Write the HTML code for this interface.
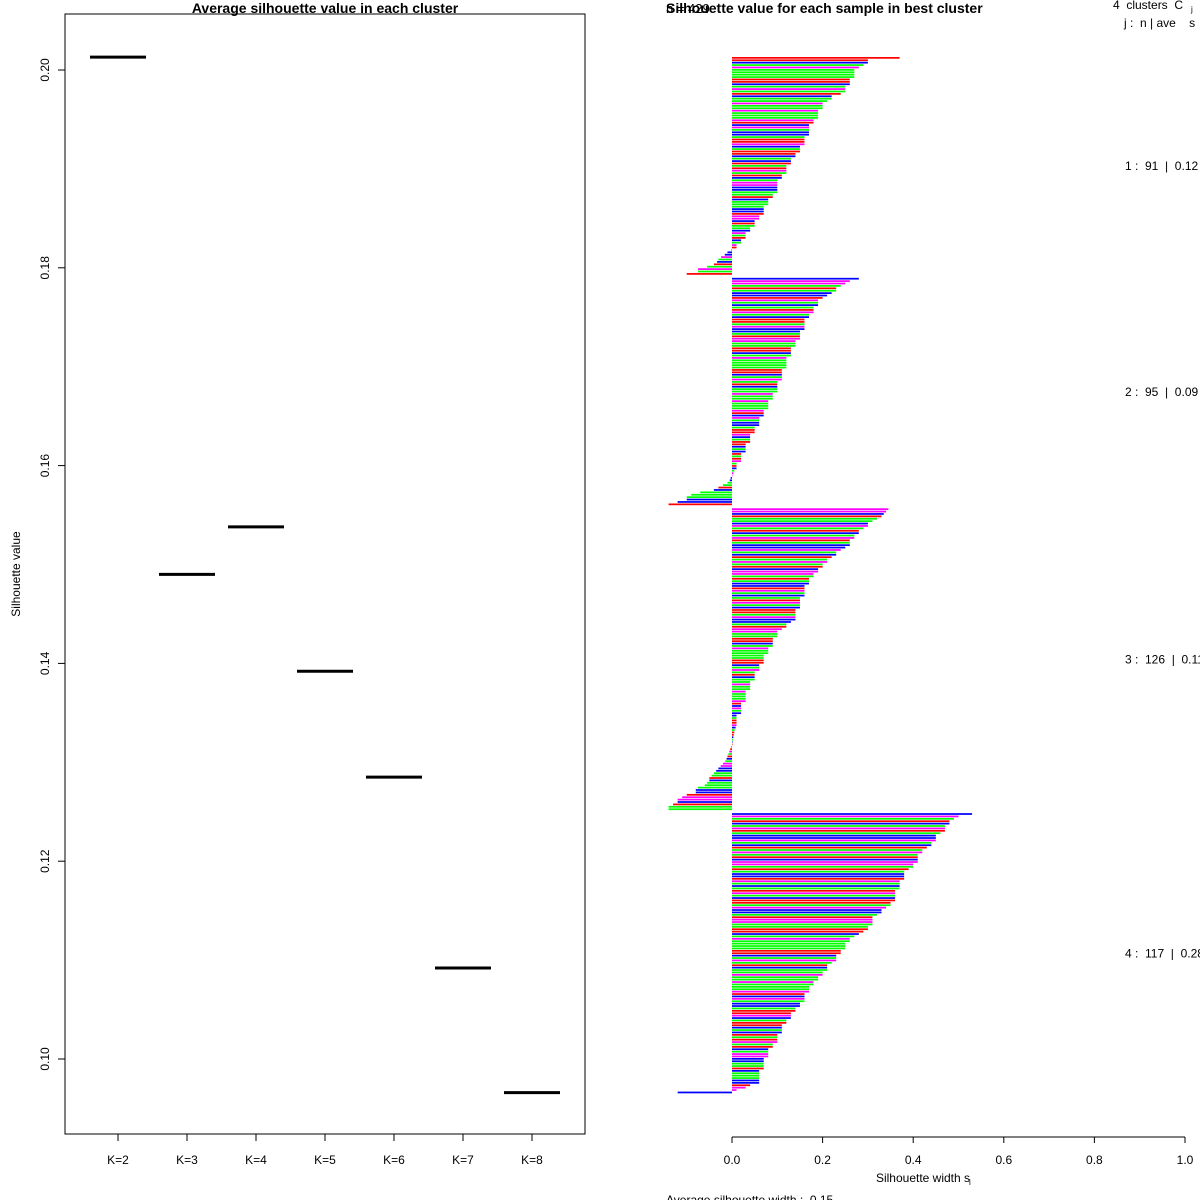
<!DOCTYPE html>
<html><head><meta charset="utf-8"><style>
html,body{margin:0;padding:0;background:#fff}
svg{display:block;font-family:"Liberation Sans",Arial,sans-serif}
text{white-space:pre}
</style></head><body>
<svg id="c" width="1200" height="1200" viewBox="0 0 1200 1200">
<g id="left"></g>
<g id="right"></g>
</svg>
<script>
const kLabels=["K=2","K=3","K=4","K=5","K=6","K=7","K=8"];
const avgSil=[0.2013,0.1490,0.1538,0.1392,0.1285,0.1092,0.0966];
const yTicks=[0.10,0.12,0.14,0.16,0.18,0.20];
const xTicks=[0,0.2,0.4,0.6,0.8,1.0];
const clusterSizes=[91,95,126,117];
const clusterAvg=["0.12","0.09","0.11","0.28"];
const sil1=[.37,.30,.30,.29,.28,.27,.27,.27,.27,.26,.26,.26,.25,.25,.25,.24,.22,.22,.21,.20,.20,.20,.19,.19,.19,.19,.18,.18,.17,.17,.17,.17,.17,.16,.16,.16,.16,.15,.15,.15,.14,.14,.13,.13,.13,.12,.12,.12,.12,.11,.11,.10,.10,.10,.10,.10,.10,.09,.09,.08,.08,.08,.07,.07,.07,.07,.06,.06,.05,.05,.05,.04,.04,.03,.03,.03,.02,.02,.01,.01,-.002,-.01,-.016,-.024,-.03,-.033,-.04,-.055,-.075,-.075,-.10];
const sil2=[.28,.26,.25,.24,.23,.23,.22,.21,.20,.19,.19,.19,.18,.18,.18,.17,.17,.16,.16,.16,.16,.16,.15,.15,.15,.15,.14,.14,.14,.13,.13,.13,.13,.12,.12,.12,.12,.12,.11,.11,.11,.11,.11,.10,.10,.10,.10,.10,.09,.09,.09,.08,.08,.08,.08,.07,.07,.07,.06,.06,.06,.06,.05,.05,.05,.04,.04,.04,.04,.03,.03,.03,.03,.02,.02,.02,.02,.01,.01,.01,.005,.003,.001,-.003,-.005,-.01,-.02,-.03,-.04,-.07,-.09,-.10,-.10,-.12,-.14];
const sil3=[.345,.34,.335,.33,.32,.31,.30,.30,.29,.28,.28,.27,.27,.26,.26,.26,.25,.24,.23,.23,.22,.21,.21,.20,.20,.19,.19,.18,.18,.17,.17,.17,.16,.16,.16,.16,.16,.15,.15,.15,.15,.15,.14,.14,.14,.14,.14,.13,.12,.12,.11,.10,.10,.10,.09,.09,.09,.09,.08,.08,.08,.07,.07,.07,.07,.06,.06,.06,.05,.05,.05,.05,.04,.04,.04,.04,.03,.03,.03,.03,.03,.02,.02,.02,.02,.02,.01,.01,.01,.01,.01,.008,.006,.005,.004,.003,.002,.001,.001,-.002,-.004,-.006,-.008,-.01,-.012,-.015,-.02,-.025,-.03,-.035,-.04,-.045,-.05,-.05,-.055,-.06,-.075,-.08,-.08,-.10,-.11,-.12,-.12,-.13,-.14,-.14];
const sil4=[.53,.50,.49,.48,.48,.47,.47,.47,.46,.45,.45,.45,.44,.44,.43,.42,.42,.41,.41,.41,.41,.40,.40,.39,.38,.38,.38,.38,.37,.37,.37,.37,.36,.36,.36,.36,.36,.35,.35,.34,.33,.33,.32,.31,.31,.31,.31,.30,.30,.29,.28,.27,.26,.26,.25,.25,.25,.24,.24,.23,.23,.23,.22,.21,.21,.21,.20,.20,.19,.19,.18,.18,.17,.17,.17,.16,.16,.16,.16,.15,.15,.14,.14,.13,.13,.13,.12,.12,.11,.11,.11,.11,.10,.10,.10,.10,.09,.09,.08,.08,.08,.08,.07,.07,.07,.07,.07,.06,.06,.06,.06,.06,.06,.04,.03,.01,-.12];
const colorCodes="rrbgmggggrrbgmgrbggmggmgggmrbmgbbgrrmbgrrbgbrgrmgrbgmmbbggrbgggbbrmmbrggbmgrbgmrgbbmgbrgmgrbmmgrgbbrmgbgrmgbrrgmbbgrmmgg";
const colorMap={r:"#ff0000",g:"#00ff00",b:"#0000ff",m:"#ff00ff"};

const NS="http://www.w3.org/2000/svg";
function mk(parent,tag,attrs,text){const e=document.createElementNS(NS,tag);for(const k in attrs)e.setAttribute(k,attrs[k]);if(text!==undefined)e.textContent=text;parent.appendChild(e);return e;}

// LEFT PANEL
const L=document.getElementById('left');
const yS=v=>1059-(v-0.10)/0.02*197.8;
const xK=i=>118+i*69;
let e=mk(L,'rect',{x:65,y:14,width:520,height:1120,fill:'none',stroke:'#000','stroke-width':1});


e=mk(L,'text',{x:325,y:13,'font-size':14,'font-weight':'bold','text-anchor':'middle'},'Average silhouette value in each cluster');


e=mk(L,'text',{x:0,y:0,'font-size':12,'text-anchor':'middle',transform:'translate(20,574) rotate(-90)'},'Silhouette value');


yTicks.forEach(v=>{const y=yS(v);
 let t=mk(L,'line',{x1:58,x2:65,y1:y,y2:y,stroke:'#000'});
 
 
 t=mk(L,'text',{x:0,y:0,'font-size':12,'text-anchor':'middle',transform:`translate(49,${y}) rotate(-90)`},v.toFixed(2));
 
 
});
kLabels.forEach((k,i)=>{const x=xK(i);
 let t=mk(L,'line',{x1:x,x2:x,y1:1134,y2:1141,stroke:'#000'});
 
 
 t=mk(L,'text',{x:x,y:1164,'font-size':12,'text-anchor':'middle'},k);
 
 
 const y=yS(avgSil[i]);
 t=mk(L,'line',{x1:x-28,x2:x+28,y1:y,y2:y,stroke:'#000','stroke-width':3});
 
 
});

// RIGHT PANEL
const R=document.getElementById('right');
const x0=732,pxU=453;
const xS=v=>x0+v*pxU;
const sils=[sil1,sil2,sil3,sil4];
const total=sils.reduce((a,s)=>a+s.length,0)+sils.length-1;
const topY=57,bottomY=1094,rowH=(bottomY-topY)/total;
let row=0,ci=0;
sils.forEach((arr,c)=>{
 const start=row;
 arr.forEach(v=>{
  const y=topY+row*rowH;
  const col=colorMap[colorCodes[ci%colorCodes.length]];ci++;
  const xa=Math.min(xS(0),xS(v)),w=Math.abs(xS(v)-xS(0));
  const b=mk(R,'rect',{x:xa,y:y,width:Math.max(w,0.5),height:rowH*0.72,fill:col});
  
  
  row++;
 });
 const mid=topY+(start+arr.length/2)*rowH;
 const t=mk(R,'text',{x:1125,y:mid+4,'font-size':12},`${c+1} :  ${clusterSizes[c]}  |  ${clusterAvg[c]}`);
 
 
 row++;
});
e=mk(R,'line',{x1:x0,x2:xS(1),y1:1137,y2:1137,stroke:'#000'});


xTicks.forEach(v=>{const x=xS(v);
 let t=mk(R,'line',{x1:x,x2:x,y1:1137,y2:1143,stroke:'#000'});
 
 
 t=mk(R,'text',{x:x,y:1164,'font-size':12,'text-anchor':'middle'},v.toFixed(1));
 
 
});
e=mk(R,'text',{x:923,y:1182,'font-size':12,'text-anchor':'middle'},'Silhouette width s');


mk(R,'text',{x:969,y:1185,'font-size':8},'i');
e=mk(R,'text',{x:666,y:1204,'font-size':12},'Average silhouette width :  0.15');


e=mk(R,'text',{x:666,y:13,'font-size':14,'font-weight':'bold'},'Silhouette value for each sample in best cluster');


e=mk(R,'text',{x:666,y:13,'font-size':13},'n = 429');


e=mk(R,'text',{x:1113,y:9,'font-size':12},'4  clusters  C');


mk(R,'text',{x:1191,y:12,'font-size':8},'j');
e=mk(R,'text',{x:1124,y:27,'font-size':12},'j :  n | ave    s');


</script>
</body></html>
